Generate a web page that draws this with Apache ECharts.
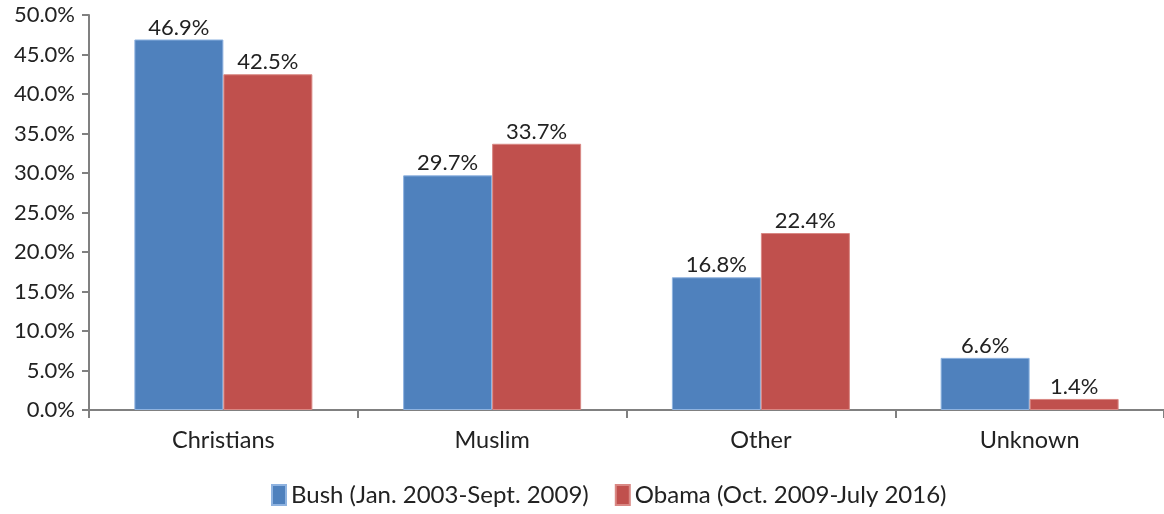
<!DOCTYPE html>
<html><head><meta charset="utf-8">
<script src="https://cdn.jsdelivr.net/npm/echarts@6/dist/echarts.min.js"></script>
<style>html,body{margin:0;padding:0;background:#fff}#c{width:1164px;height:514px}</style>
</head><body><div id="c"></div>
<script>
const categories = ['Christians', 'Muslim', 'Other', 'Unknown'];
const bushValues = [46.9, 29.7, 16.8, 6.6];
const obamaValues = [42.5, 33.7, 22.4, 1.4];
const seriesNames = ['Bush (Jan. 2003-Sept. 2009)', 'Obama (Oct. 2009-July 2016)'];
const font = 'Lato, "Open Sans", sans-serif';
const chart = echarts.init(document.getElementById('c'), null, {renderer: 'canvas'});
const lbl = {show: true, position: 'top', distance: 1, color: '#222', fontFamily: font, fontSize: 22,
  formatter: p => p.value.toFixed(1) + '%'};
chart.setOption({
  animation: false,
  textStyle: {fontFamily: font},
  grid: {left: 89, right: -3, top: 15, bottom: 104, containLabel: false},
  legend: {bottom: 2, left: 266, itemWidth: 14, itemHeight: 20, itemGap: 26, itemTextGap: 7,
    textStyle: {fontFamily: font, fontSize: 24, color: '#222'}, icon: 'rect'},
  xAxis: {type: 'category', data: categories,
    axisLine: {lineStyle: {color: '#808080', width: 2}},
    axisTick: {show: true, length: 8, lineStyle: {color: '#808080', width: 2}},
    axisLabel: {fontFamily: font, fontSize: 23.5, color: '#222', margin: 18}},
  yAxis: {type: 'value', min: 0, max: 50, interval: 5,
    axisLine: {show: true, lineStyle: {color: '#808080', width: 2}},
    axisTick: {show: true, length: 7, lineStyle: {color: '#808080', width: 2}},
    splitLine: {show: false},
    axisLabel: {fontFamily: font, fontSize: 22, color: '#222', margin: 14,
      formatter: v => v.toFixed(1) + '%'}},
  series: [
    {name: seriesNames[0], type: 'bar', data: bushValues, barWidth: 89, barGap: '0%',
      itemStyle: {color: '#4F81BD', borderColor: '#8fb3e0', borderWidth: 1}, label: lbl},
    {name: seriesNames[1], type: 'bar', data: obamaValues, barWidth: 89, barGap: '0%',
      itemStyle: {color: '#C0504D', borderColor: '#d98884', borderWidth: 1}, label: lbl}
  ]
});
</script></body></html>
